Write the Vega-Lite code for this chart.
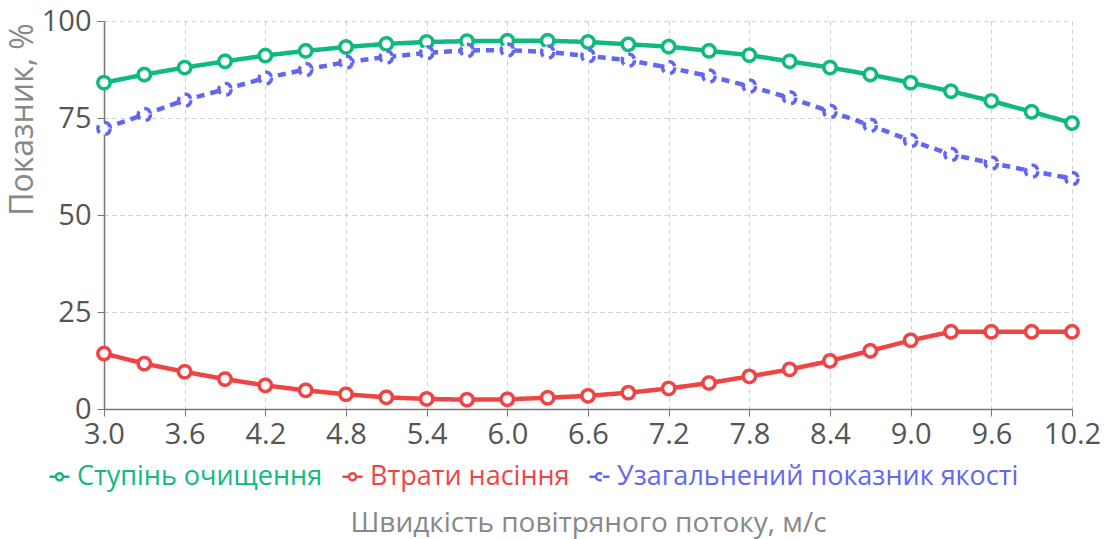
{
  "$schema": "https://vega.github.io/schema/vega-lite/v6.json",
  "width": 968,
  "height": 388,
  "autosize": {"type": "none"},
  "padding": {"left": 104, "top": 21, "right": 34, "bottom": 130},
  "background": "white",
  "config": {
    "font": "Open Sans",
    "view": {"stroke": null},
    "axis": {
      "labelFontSize": 29,
      "labelColor": "#555555",
      "labelFlush": false,
      "titleFontWeight": "normal",
      "titleColor": "#888888",
      "domainColor": "#777777",
      "domainWidth": 1.5,
      "tickColor": "#777777",
      "tickSize": 7,
      "gridColor": "#cccccc",
      "gridDash": [4, 4],
      "gridWidth": 1
    }
  },
  "data": {
    "values": [
      {"x": 3.0, "s": "Ступінь очищення", "v": 84.1},
      {"x": 3.3, "s": "Ступінь очищення", "v": 86.2},
      {"x": 3.6, "s": "Ступінь очищення", "v": 88.0},
      {"x": 3.9, "s": "Ступінь очищення", "v": 89.6},
      {"x": 4.2, "s": "Ступінь очищення", "v": 91.1},
      {"x": 4.5, "s": "Ступінь очищення", "v": 92.3},
      {"x": 4.8, "s": "Ступінь очищення", "v": 93.3},
      {"x": 5.1, "s": "Ступінь очищення", "v": 94.1},
      {"x": 5.4, "s": "Ступінь очищення", "v": 94.6},
      {"x": 5.7, "s": "Ступінь очищення", "v": 94.8},
      {"x": 6.0, "s": "Ступінь очищення", "v": 94.9},
      {"x": 6.3, "s": "Ступінь очищення", "v": 94.9},
      {"x": 6.6, "s": "Ступінь очищення", "v": 94.6},
      {"x": 6.9, "s": "Ступінь очищення", "v": 94.0},
      {"x": 7.2, "s": "Ступінь очищення", "v": 93.4},
      {"x": 7.5, "s": "Ступінь очищення", "v": 92.3},
      {"x": 7.8, "s": "Ступінь очищення", "v": 91.2},
      {"x": 8.1, "s": "Ступінь очищення", "v": 89.6},
      {"x": 8.4, "s": "Ступінь очищення", "v": 88.0},
      {"x": 8.7, "s": "Ступінь очищення", "v": 86.2},
      {"x": 9.0, "s": "Ступінь очищення", "v": 84.1},
      {"x": 9.3, "s": "Ступінь очищення", "v": 81.9},
      {"x": 9.6, "s": "Ступінь очищення", "v": 79.4},
      {"x": 9.9, "s": "Ступінь очищення", "v": 76.6},
      {"x": 10.2, "s": "Ступінь очищення", "v": 73.7},
      {"x": 3.0, "s": "Втрати насіння", "v": 14.3},
      {"x": 3.3, "s": "Втрати насіння", "v": 11.7},
      {"x": 3.6, "s": "Втрати насіння", "v": 9.6},
      {"x": 3.9, "s": "Втрати насіння", "v": 7.7},
      {"x": 4.2, "s": "Втрати насіння", "v": 6.1},
      {"x": 4.5, "s": "Втрати насіння", "v": 4.8},
      {"x": 4.8, "s": "Втрати насіння", "v": 3.8},
      {"x": 5.1, "s": "Втрати насіння", "v": 3.0},
      {"x": 5.4, "s": "Втрати насіння", "v": 2.6},
      {"x": 5.7, "s": "Втрати насіння", "v": 2.4},
      {"x": 6.0, "s": "Втрати насіння", "v": 2.5},
      {"x": 6.3, "s": "Втрати насіння", "v": 2.9},
      {"x": 6.6, "s": "Втрати насіння", "v": 3.4},
      {"x": 6.9, "s": "Втрати насіння", "v": 4.2},
      {"x": 7.2, "s": "Втрати насіння", "v": 5.3},
      {"x": 7.5, "s": "Втрати насіння", "v": 6.7},
      {"x": 7.8, "s": "Втрати насіння", "v": 8.4},
      {"x": 8.1, "s": "Втрати насіння", "v": 10.2},
      {"x": 8.4, "s": "Втрати насіння", "v": 12.4},
      {"x": 8.7, "s": "Втрати насіння", "v": 15.0},
      {"x": 9.0, "s": "Втрати насіння", "v": 17.7},
      {"x": 9.3, "s": "Втрати насіння", "v": 19.9},
      {"x": 9.6, "s": "Втрати насіння", "v": 19.9},
      {"x": 9.9, "s": "Втрати насіння", "v": 19.9},
      {"x": 10.2, "s": "Втрати насіння", "v": 19.9},
      {"x": 3.0, "s": "Узагальнений показник якості", "v": 72.3},
      {"x": 3.3, "s": "Узагальнений показник якості", "v": 75.9},
      {"x": 3.6, "s": "Узагальнений показник якості", "v": 79.6},
      {"x": 3.9, "s": "Узагальнений показник якості", "v": 82.4},
      {"x": 4.2, "s": "Узагальнений показник якості", "v": 85.3},
      {"x": 4.5, "s": "Узагальнений показник якості", "v": 87.5},
      {"x": 4.8, "s": "Узагальнений показник якості", "v": 89.4},
      {"x": 5.1, "s": "Узагальнений показник якості", "v": 90.7},
      {"x": 5.4, "s": "Узагальнений показник якості", "v": 91.8},
      {"x": 5.7, "s": "Узагальнений показник якості", "v": 92.4},
      {"x": 6.0, "s": "Узагальнений показник якості", "v": 92.5},
      {"x": 6.3, "s": "Узагальнений показник якості", "v": 92.0},
      {"x": 6.6, "s": "Узагальнений показник якості", "v": 91.0},
      {"x": 6.9, "s": "Узагальнений показник якості", "v": 89.9},
      {"x": 7.2, "s": "Узагальнений показник якості", "v": 88.0},
      {"x": 7.5, "s": "Узагальнений показник якості", "v": 85.8},
      {"x": 7.8, "s": "Узагальнений показник якості", "v": 83.2},
      {"x": 8.1, "s": "Узагальнений показник якості", "v": 80.2},
      {"x": 8.4, "s": "Узагальнений показник якості", "v": 76.7},
      {"x": 8.7, "s": "Узагальнений показник якості", "v": 73.1},
      {"x": 9.0, "s": "Узагальнений показник якості", "v": 69.2},
      {"x": 9.3, "s": "Узагальнений показник якості", "v": 65.6},
      {"x": 9.6, "s": "Узагальнений показник якості", "v": 63.4},
      {"x": 9.9, "s": "Узагальнений показник якості", "v": 61.3},
      {"x": 10.2, "s": "Узагальнений показник якості", "v": 59.4}
    ]
  },
  "encoding": {
    "x": {
      "field": "x",
      "type": "quantitative",
      "scale": {"domain": [3.0, 10.2], "nice": false, "zero": false},
      "axis": {
        "values": [3.0, 3.6, 4.2, 4.8, 5.4, 6.0, 6.6, 7.2, 7.8, 8.4, 9.0, 9.6, 10.2],
        "format": ".1f",
        "labelPadding": 4,
        "title": "Швидкість повітряного потоку, м/с",
        "titleFontSize": 28,
        "titleX": 484,
        "titleY": 114,
        "titleBaseline": "middle"
      }
    },
    "y": {
      "field": "v",
      "type": "quantitative",
      "scale": {"domain": [0, 100], "nice": false},
      "axis": {
        "values": [0, 25, 50, 75, 100],
        "labelPadding": 6,
        "title": "Показник, %",
        "titleFontSize": 32,
        "titleX": -82,
        "titleY": 98,
        "titleAngle": -90,
        "titleAlign": "center",
        "titleBaseline": "middle"
      }
    }
  },
  "layer": [
    {
      "mark": {"type": "line", "strokeWidth": 4.5, "clip": false},
      "encoding": {
        "color": {
          "field": "s",
          "type": "nominal",
          "scale": {
            "domain": ["Ступінь очищення", "Втрати насіння", "Узагальнений показник якості"],
            "range": ["#10b981", "#ef4444", "#6366f1"]
          },
          "legend": {
            "orient": "none",
            "direction": "horizontal",
            "legendX": -58,
            "legendY": 442,
            "title": null,
            "labelFontSize": 27,
            "labelFont": "Open Sans",
            "labelLimit": 0,
            "labelOffset": 4,
            "columnPadding": 14,
            "symbolType": "M-1,0L-0.35,0M0.35,0L1,0M-0.35,0A0.35,0.35,0,1,1,0.35,0A0.35,0.35,0,1,1,-0.35,0",
            "symbolSize": 400,
            "symbolStrokeWidth": 2.5,
            "symbolFillColor": "white",
            "encode": {
              "labels": {"update": {"fill": {"signal": "scale('color', datum.value)"}}}
            }
          }
        },
        "strokeDash": {
          "field": "s",
          "type": "nominal",
          "scale": {
            "domain": ["Ступінь очищення", "Втрати насіння", "Узагальнений показник якості"],
            "range": [[1, 0], [1, 0], [8, 6]]
          },
          "legend": null
        }
      }
    },
    {
      "mark": {"type": "point", "shape": "circle", "filled": true, "fill": "white", "size": 150, "strokeWidth": 3.5, "opacity": 1, "clip": false},
      "encoding": {
        "stroke": {
          "field": "s",
          "type": "nominal",
          "scale": {
            "domain": ["Ступінь очищення", "Втрати насіння", "Узагальнений показник якості"],
            "range": ["#10b981", "#ef4444", "#6366f1"]
          },
          "legend": null
        },
        "strokeDash": {
          "field": "s",
          "type": "nominal",
          "legend": null
        }
      }
    }
  ]
}
